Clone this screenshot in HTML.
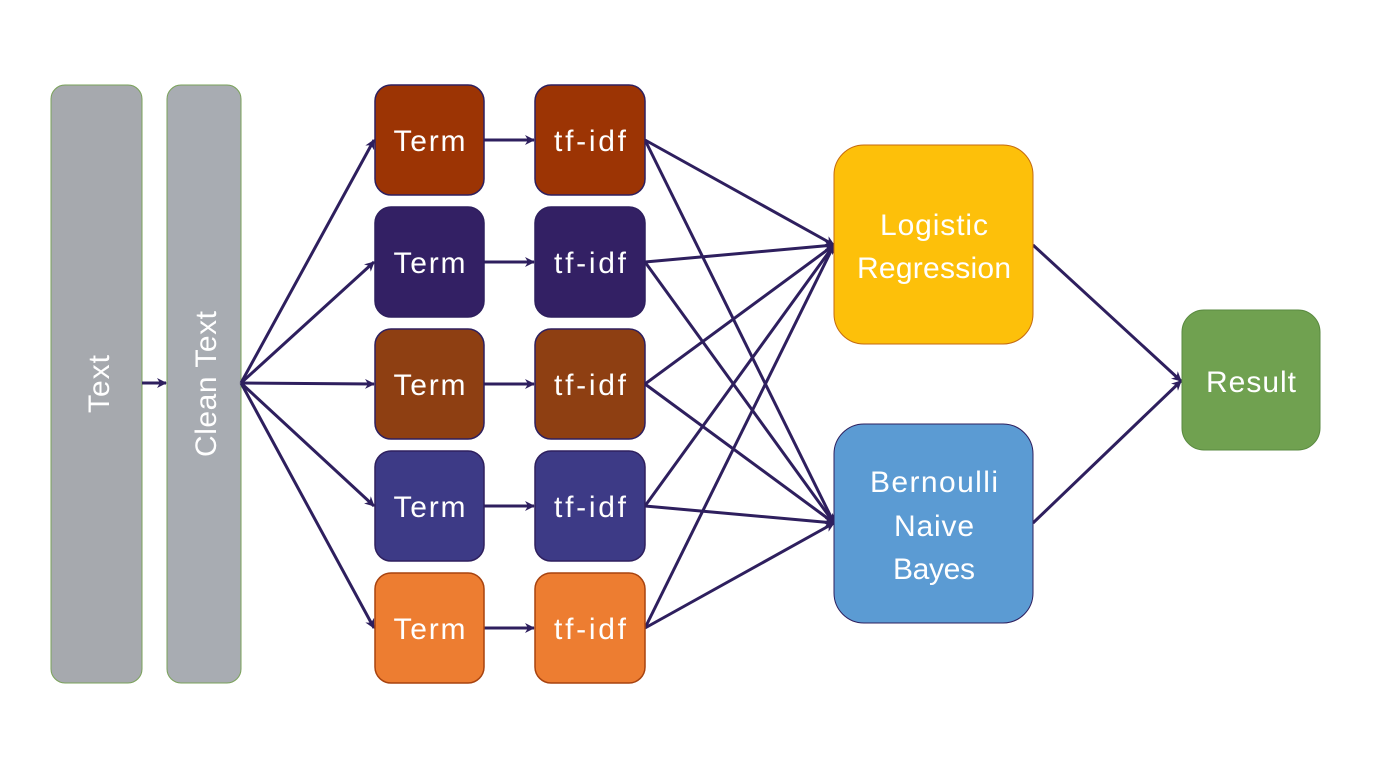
<!DOCTYPE html>
<html><head><meta charset="utf-8"><style>
html,body{margin:0;padding:0;background:#fff;}
svg{display:block;}
text{font-family:"Liberation Sans",sans-serif;fill:#fff;}
</style></head><body>
<svg width="1400" height="768" viewBox="0 0 1400 768" xmlns="http://www.w3.org/2000/svg">
<defs>
<marker id="a" markerWidth="10" markerHeight="10" refX="9" refY="5" orient="auto" markerUnits="userSpaceOnUse">
<path d="M0,0 L10,5 L0,10 L3,5 z" fill="#2e1f5e"/>
</marker>
</defs>
<!-- gray columns -->
<rect x="51" y="85" width="91" height="598" rx="14" fill="#a6a9ae" stroke="#7aa25a" stroke-width="1"/>
<rect x="167" y="85" width="74" height="598" rx="14" fill="#a8acb2" stroke="#7aa25a" stroke-width="1"/>
<text transform="translate(109,384) rotate(-90)" font-size="30" text-anchor="middle" textLength="58">Text</text>
<text transform="translate(216,384) rotate(-90)" font-size="30" text-anchor="middle" textLength="146">Clean Text</text>
<g stroke="#2e1f5e" stroke-width="3" fill="none" marker-end="url(#a)">
<line x1="142" y1="383" x2="166" y2="383"/>
<line x1="241" y1="383" x2="374" y2="140"/>
<line x1="241" y1="383" x2="374" y2="262"/>
<line x1="241" y1="383" x2="374" y2="384"/>
<line x1="241" y1="383" x2="374" y2="506"/>
<line x1="241" y1="383" x2="374" y2="628"/>
<line x1="484" y1="140" x2="534" y2="140"/>
<line x1="484" y1="262" x2="534" y2="262"/>
<line x1="484" y1="384" x2="534" y2="384"/>
<line x1="484" y1="506" x2="534" y2="506"/>
<line x1="484" y1="628" x2="534" y2="628"/>
<line x1="645" y1="140" x2="834" y2="245"/>
<line x1="645" y1="262" x2="834" y2="245"/>
<line x1="645" y1="384" x2="834" y2="245"/>
<line x1="645" y1="506" x2="834" y2="245"/>
<line x1="645" y1="628" x2="834" y2="245"/>
<line x1="645" y1="140" x2="834" y2="523"/>
<line x1="645" y1="262" x2="834" y2="523"/>
<line x1="645" y1="384" x2="834" y2="523"/>
<line x1="645" y1="506" x2="834" y2="523"/>
<line x1="645" y1="628" x2="834" y2="523"/>
<line x1="1033" y1="245" x2="1181" y2="381"/>
<line x1="1033" y1="523" x2="1181" y2="381"/>
</g>
<!-- term rows -->
<g stroke="#2e1f5e" stroke-width="1.5">
<rect x="375" y="85" width="109" height="110" rx="16" fill="#9c3404"/>
<rect x="535" y="85" width="110" height="110" rx="16" fill="#9c3404"/>
<rect x="375" y="207" width="109" height="110" rx="16" fill="#332064"/>
<rect x="535" y="207" width="110" height="110" rx="16" fill="#332064"/>
<rect x="375" y="329" width="109" height="110" rx="16" fill="#8e3f12"/>
<rect x="535" y="329" width="110" height="110" rx="16" fill="#8e3f12"/>
<rect x="375" y="451" width="109" height="110" rx="16" fill="#3d3a86"/>
<rect x="535" y="451" width="110" height="110" rx="16" fill="#3d3a86"/>
<rect x="375" y="573" width="109" height="110" rx="16" fill="#ed7d31" stroke="#a8430f"/>
<rect x="535" y="573" width="110" height="110" rx="16" fill="#ed7d31" stroke="#a8430f"/>
</g>
<g font-size="30" text-anchor="middle">
<text x="429.5" y="151" textLength="72">Term</text>
<text x="590" y="151" textLength="72">tf-idf</text>
<text x="429.5" y="273" textLength="72">Term</text>
<text x="590" y="273" textLength="72">tf-idf</text>
<text x="429.5" y="395" textLength="72">Term</text>
<text x="590" y="395" textLength="72">tf-idf</text>
<text x="429.5" y="517" textLength="72">Term</text>
<text x="590" y="517" textLength="72">tf-idf</text>
<text x="429.5" y="639" textLength="72">Term</text>
<text x="590" y="639" textLength="72">tf-idf</text>
</g>
<!-- models -->
<rect x="834" y="145" width="199" height="199" rx="30" fill="#fdc00a" stroke="#c56a10" stroke-width="1"/>
<rect x="834" y="424" width="199" height="199" rx="30" fill="#5b9bd3" stroke="#2e1f5e" stroke-width="1"/>
<rect x="1182" y="310" width="138" height="140" rx="22" fill="#70a150" stroke="#5a8a40" stroke-width="1"/>
<g font-size="30" text-anchor="middle">
<text x="934" y="235" textLength="108">Logistic</text>
<text x="934" y="278" textLength="154">Regression</text>
<text x="934" y="492" textLength="128">Bernoulli</text>
<text x="934" y="536" textLength="80">Naive</text>
<text x="934" y="579" textLength="82">Bayes</text>
<text x="1251" y="392" textLength="90">Result</text>
</g>
</svg>
</body></html>
